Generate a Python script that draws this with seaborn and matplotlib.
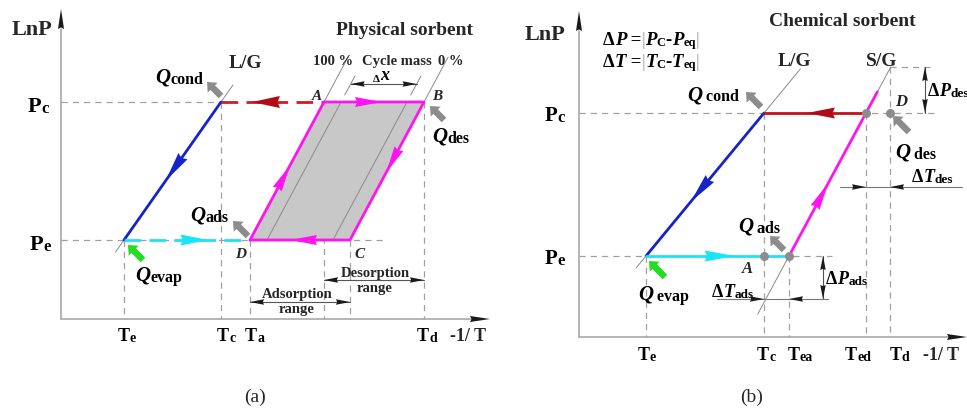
import numpy as np
import matplotlib
matplotlib.use("Agg")
import matplotlib.pyplot as plt
import seaborn as sns

# =========================
# Panel (a) - physical sorbent (picture units, y grows downward)
# =========================

a_origin = (61, 320)
a_arrow_tips = (10, 490)            # top of LnP axis, right end of -1/T axis

a_Pc, a_Pe = 103, 241
a_Te, a_Tc, a_Ta, a_Td = 124, 221, 250, 424
a_TA, a_TC = 324, 350               # temperature of point A and C

a_isosteres = [0, 17, 83, 100]      # shift of the isosteres along Pe, from D
a_iso_top = 58
a_cycle_mass_y = 85
a_lg_ends = (253, 86)
a_range_y = (281, 303)              # desorption / adsorption range arrows

a_tick_text = [("T", "e"), ("T", "c"), ("T", "a"), ("T", "d")]
a_tick_left = [118, 217, 245, 417]

# =========================
# Panel (b) - chemical sorbent
# =========================

b_origin = (579, 338)
b_arrow_tips = (12, 967)

b_Pc, b_Pe = 114, 257
b_Pdes_top, b_Pads_bottom = 68, 300
b_Te, b_Tc, b_Tea, b_Ted, b_Td = 646, 764, 789, 866, 890
b_lg_ends = (269, 70)
b_sg_magenta_top = 93
b_sg_bottom = 315
b_dTdes_y = 188
b_dP_x = (823, 925)

b_tick_text = [("T", "e"), ("T", "c"), ("T", "ea"), ("T", "ed"), ("T", "d")]
b_tick_left = [638, 757, 788, 845, 890]

# =========================
# Colours
# =========================

blue = "#1424c8"
red = "#d01c28"
dark_red = "#b00c18"
magenta = "#ff14f0"
cyan = "#18e6f6"
green = "#22dd22"
heat_gray = "#8c8c8c"
guide_gray = "#a0a0a0"

sns.set_theme(style="white")
plt.rcParams["font.family"] = ["Liberation Serif", "DejaVu Serif"]

fig = plt.figure(figsize=(9.67, 4.10), dpi=100)
ax = fig.add_axes([0, 0, 1, 1])


def x_at(p0, p1, y):
    return p0[0] + (y - p0[1]) * (p1[0] - p0[0]) / (p1[1] - p0[1])


def head(p0, p1, frac, length=26, width=9, color="k", z=6):
    p0 = np.array(p0, float)
    p1 = np.array(p1, float)
    u = (p1 - p0) / np.linalg.norm(p1 - p0)
    n = np.array([-u[1], u[0]])
    tip = p0 + frac * (p1 - p0)
    base = tip - u * length
    pts = np.array([tip, base + n * width / 2, base + u * length * 0.08, base - n * width / 2])
    ax.fill(pts[:, 0], pts[:, 1], color=color, lw=0, zorder=z)


def guide(xs, ys):
    ax.plot(xs, ys, color=guide_gray, lw=0.9, dashes=(5, 4), zorder=1)


def thin(xs, ys, color="#8a8a8a", lw=0.7):
    ax.plot(xs, ys, color=color, lw=lw, zorder=3)


def process(xs, ys, color, dashed=False):
    sns.lineplot(x=xs, y=ys, sort=False, estimator=None, color=color, lw=2.0,
                 linestyle="--" if dashed else "-", ax=ax, zorder=4)
    if dashed:
        ax.lines[-1].set_dashes((6, 3))


def heat(tail, tip, color=heat_gray):
    ax.arrow(tail[0], tail[1], tip[0] - tail[0], tip[1] - tail[1], width=6.5,
             head_width=14, head_length=8, length_includes_head=True,
             fc=color, ec="none", zorder=5)


def rich(x, y, parts, ha="left"):
    prev = None
    for part in parts:
        s, size, style = part[:3]
        color = part[3] if len(part) > 3 else "black"
        weight = "normal" if len(part) > 3 else "bold"
        kw = dict(fontsize=size, fontweight=weight, fontstyle=style, color=color, zorder=7)
        if prev is None:
            prev = ax.text(x, y, s, va="baseline", ha=ha, **kw)
        else:
            prev = ax.annotate(s, xy=(1, 0), xycoords=prev, va="bottom", ha="left", **kw)


def axes_frame(origin, tips):
    ox, oy = origin
    thin([ox, ox], [oy, tips[0] + 20], color="#a8a8a8", lw=1.2)
    thin([ox, tips[1] - 18], [oy, oy], color="#a8a8a8", lw=1.2)
    head((ox, oy), (ox, tips[0]), 1, length=20, width=6)
    head((ox, oy), (tips[1], oy), 1, length=20, width=6)


def dim_out(p0, p1):
    thin([p0[0], p1[0]], [p0[1], p1[1]], color="#555555", lw=0.8)
    head(p1, p0, 1, length=14, width=5.5)
    head(p0, p1, 1, length=14, width=5.5)


# =========================
# Panel (a)
# =========================

axes_frame(a_origin, a_arrow_tips)

A, B, C, D = (a_TA, a_Pc), (a_Td, a_Pc), (a_TC, a_Pe), (a_Ta, a_Pe)

guide([a_origin[0], a_Tc], [a_Pc, a_Pc])
guide([a_origin[0], 385], [a_Pe, a_Pe])
for t, top in [(a_Te, a_Pe), (a_Tc, a_Pc), (a_Ta, a_Pe), (a_TA, a_Pc),
               (a_TC, a_Pe), (a_Td, a_Pc)]:
    guide([t, t], [top, a_origin[1]])

ax.fill([A[0], B[0], C[0], D[0]], [A[1], B[1], C[1], D[1]], color="#c8c8c8", lw=0, zorder=2)

# isosteres (100 %, interior, 0 %)
for i, s in enumerate(a_isosteres):
    p0 = (D[0] + s, a_Pe)
    p1 = (A[0] + s, a_Pc)
    if i in (0, 3):
        thin([p0[0], x_at(p0, p1, a_iso_top)], [a_Pe, a_iso_top])
    else:
        thin([p0[0], p1[0]], [a_Pe, a_Pc])
        thin([x_at(p0, p1, 96), x_at(p0, p1, 77)], [96, 77])

# L/G line
lg0, lg1 = (a_Te, a_Pe), (a_Tc, a_Pc)
thin([x_at(lg0, lg1, a_lg_ends[0]), x_at(lg0, lg1, a_lg_ends[1])], list(a_lg_ends))

process([a_Tc, a_Te], [a_Pc, a_Pe], blue)
process([a_Tc, a_TA], [a_Pc, a_Pc], red, dashed=True)
process([a_Te, a_Ta], [a_Pe, a_Pe], cyan, dashed=True)
process([A[0], B[0], C[0], D[0], A[0]], [A[1], B[1], C[1], D[1], A[1]], magenta)

head((a_Tc, a_Pc), (a_Te, a_Pe), 0.57, length=30, width=11, color=blue)
head((a_TA, a_Pc), (a_Tc, a_Pc), 0.70, length=28, width=12, color=dark_red)
head((a_Te, a_Pe), (a_Ta, a_Pe), 0.67, length=28, width=11, color=cyan)
head(A, B, 0.58, length=27, width=10, color=magenta)
head(B, C, 0.51, length=27, width=10, color=magenta)
head(C, D, 0.60, length=27, width=10, color=magenta)
head(D, A, 0.54, length=27, width=10, color=magenta)

# cycle mass and ranges
p0, p1 = (D[0] + a_isosteres[1], a_Pe), (A[0] + a_isosteres[1], a_Pc)
q0, q1 = (D[0] + a_isosteres[2], a_Pe), (A[0] + a_isosteres[2], a_Pc)
dim_out((x_at(p0, p1, a_cycle_mass_y), a_cycle_mass_y), (x_at(q0, q1, a_cycle_mass_y), a_cycle_mass_y))
dim_out((a_TA, a_range_y[0]), (a_Td, a_range_y[0]))
dim_out((a_Ta, a_range_y[1]), (a_TC, a_range_y[1]))

heat((221, 97), (207, 83))
heat((444, 121), (430, 107))
heat((248, 237), (233, 222))
heat((143, 261), (128, 246), color=green)

ax.text(12, 35, "LnP", fontsize=16, fontweight="bold")
ax.text(404, 35, "Physical sorbent", fontsize=14, fontweight="bold", ha="center")
ax.text(245, 68, "L/G", fontsize=14, fontweight="bold", ha="center")
ax.text(333, 65, "100 %", fontsize=10.5, fontweight="bold", ha="center")
ax.text(397, 65, "Cycle mass", fontsize=10.5, fontweight="bold", ha="center")
ax.text(451, 65, "0 %", fontsize=10.5, fontweight="bold", ha="center")
rich(373, 82, [("Δ", 8, "normal"), ("x", 13, "italic")])
for s, x, y in [("A", 317, 100), ("B", 437, 100), ("C", 360, 258), ("D", 241, 258)]:
    ax.text(x, y, s, fontsize=11, fontweight="bold", fontstyle="italic", ha="center")
ax.text(375, 277, "Desorption", fontsize=10.5, fontweight="bold", ha="center")
ax.text(375, 292, "range", fontsize=10.5, fontweight="bold", ha="center")
ax.text(297, 298, "Adsorption", fontsize=10.5, fontweight="bold", ha="center")
ax.text(297, 313, "range", fontsize=10.5, fontweight="bold", ha="center")

rich(155, 83, [("Q", 15, "italic"), ("cond", 11.5, "normal")])
rich(432, 142, [("Q", 15, "italic"), ("des", 11.5, "normal")])
rich(190, 221, [("Q", 15, "italic"), ("ads", 11.5, "normal")])
rich(135, 281, [("Q", 15, "italic"), ("evap", 11.5, "normal")])
rich(28, 112, [("P", 16, "normal"), ("c", 12, "normal")])
rich(30, 250, [("P", 16, "normal"), ("e", 12, "normal")])
for (m, s), x in zip(a_tick_text, a_tick_left):
    rich(x, 341, [(m, 13, "normal"), (s, 10, "normal")])
ax.text(450, 341, "-1/ T", fontsize=13, fontweight="bold")
ax.text(255, 397, "(a)", fontsize=14, ha="center", va="center")

# =========================
# Panel (b)
# =========================

axes_frame(b_origin, b_arrow_tips)

guide([b_origin[0], 935], [b_Pc, b_Pc])
guide([b_origin[0], 832], [b_Pe, b_Pe])
guide([b_Td, 935], [b_Pdes_top, b_Pdes_top])
for t, top in [(b_Te, b_Pe), (b_Tc, b_Pc), (b_Tea, b_Pe), (b_Ted, b_Pc), (b_Td, b_Pdes_top)]:
    guide([t, t], [top, b_origin[1]])

lg0, lg1 = (b_Te, b_Pe), (b_Tc, b_Pc)
thin([x_at(lg0, lg1, b_lg_ends[0]), x_at(lg0, lg1, b_lg_ends[1])], list(b_lg_ends))
sg0, sg1 = (b_Tea, b_Pe), (b_Ted, b_Pc)
thin([x_at(sg0, sg1, b_sg_bottom), x_at(sg0, sg1, b_Pdes_top)], [b_sg_bottom, b_Pdes_top])

process([b_Tc, b_Te], [b_Pc, b_Pe], blue)
process([b_Ted, b_Tc], [b_Pc, b_Pc], "#c4101c")
process([b_Te, b_Tea], [b_Pe, b_Pe], cyan)
process([b_Tea, x_at(sg0, sg1, b_sg_magenta_top)], [b_Pe, b_sg_magenta_top], magenta)

head((b_Tc, b_Pc), (b_Te, b_Pe), 0.62, length=30, width=11, color=blue)
head((b_Ted, b_Pc), (b_Tc, b_Pc), 0.58, length=28, width=11, color=dark_red)
head((b_Te, b_Pe), (b_Tea, b_Pe), 0.62, length=30, width=11, color=cyan)
head(sg0, sg1, 0.51, length=28, width=10, color=magenta)

for x, y in [(b_Ted, b_Pc), (b_Td, b_Pc), (b_Tc, b_Pe), (b_Tea, b_Pe)]:
    ax.scatter([x], [y], s=42, color="#8c8c8c", zorder=8, lw=0)

# dimension marks
dim_out((b_dP_x[1], b_Pdes_top), (b_dP_x[1], b_Pc))
dim_out((b_dP_x[0], b_Pe), (b_dP_x[0], b_Pads_bottom))
thin([717, 828], [b_Pads_bottom, b_Pads_bottom], color="#777777", lw=0.8)
head((717, b_Pads_bottom), (b_Tc, b_Pads_bottom), 1, length=14, width=5.5)
head((828, b_Pads_bottom), (b_Tea, b_Pads_bottom), 1, length=14, width=5.5)
thin([840, 962], [b_dTdes_y, b_dTdes_y], color="#777777", lw=0.8)
head((840, b_dTdes_y), (b_Ted, b_dTdes_y), 1, length=14, width=5.5)
head((962, b_dTdes_y), (b_Td, b_dTdes_y), 1, length=14, width=5.5)

heat((761, 108), (746, 93))
heat((909, 133), (893, 117))
heat((784, 251), (770, 237))
heat((665, 278), (649, 262), color=green)

ax.text(525, 40, "LnP", fontsize=16, fontweight="bold")
ax.text(842, 26, "Chemical sorbent", fontsize=14, fontweight="bold", ha="center")
ax.text(794, 66, "L/G", fontsize=14, fontweight="bold", ha="center")
ax.text(882, 66, "S/G", fontsize=14, fontweight="bold", ha="center")
bar = ("|", 13, "normal", "#999999")
rich(603, 45, [("Δ", 13.5, "normal"), ("P", 13.5, "italic"), (" =", 13.5, "normal"), bar,
               ("P", 13.5, "italic"), ("C", 9, "normal"), ("-", 13.5, "normal"),
               ("P", 13.5, "italic"), ("eq", 9, "normal"), bar])
rich(603, 67, [("Δ", 13.5, "normal"), ("T", 13.5, "italic"), (" =", 13.5, "normal"), bar,
               ("T", 13.5, "italic"), ("C", 9, "normal"), ("-", 13.5, "normal"),
               ("T", 13.5, "italic"), ("eq", 9, "normal"), bar])

rich(687, 100, [("Q", 15, "italic"), (" cond", 11.5, "normal")])
rich(895, 158, [("Q", 15, "italic"), (" des", 11.5, "normal")])
rich(738, 232, [("Q", 15, "italic"), (" ads", 11.5, "normal")])
rich(638, 300, [("Q", 15, "italic"), (" evap", 11.5, "normal")])
rich(928, 96, [("Δ", 13, "normal"), ("P", 13, "italic"), ("des", 9.5, "normal")])
rich(912, 182, [("Δ", 13, "normal"), ("T", 13, "italic"), ("des", 9.5, "normal")])
rich(712, 297, [("Δ", 13, "normal"), ("T", 13, "italic"), ("ads", 9.5, "normal")])
rich(826, 284, [("Δ", 13, "normal"), ("P", 13, "italic"), ("ads", 9.5, "normal")])
ax.text(901, 106, "D", fontsize=12, fontweight="bold", fontstyle="italic", ha="center")
ax.text(747, 273, "A", fontsize=12, fontweight="bold", fontstyle="italic", ha="center")
rich(545, 121, [("P", 15, "normal"), ("c", 12, "normal")])
rich(545, 264, [("P", 15, "normal"), ("e", 12, "normal")])
for (m, s), x in zip(b_tick_text, b_tick_left):
    rich(x, 360, [(m, 13, "normal"), (s, 10, "normal")])
ax.text(923, 360, "-1/ T", fontsize=13, fontweight="bold")
ax.text(752, 397, "(b)", fontsize=14, ha="center", va="center")

ax.set_xlim(0, 967)
ax.set_ylim(410, 0)
ax.axis("off")

fig.savefig("out.png", dpi=100, facecolor="white")
